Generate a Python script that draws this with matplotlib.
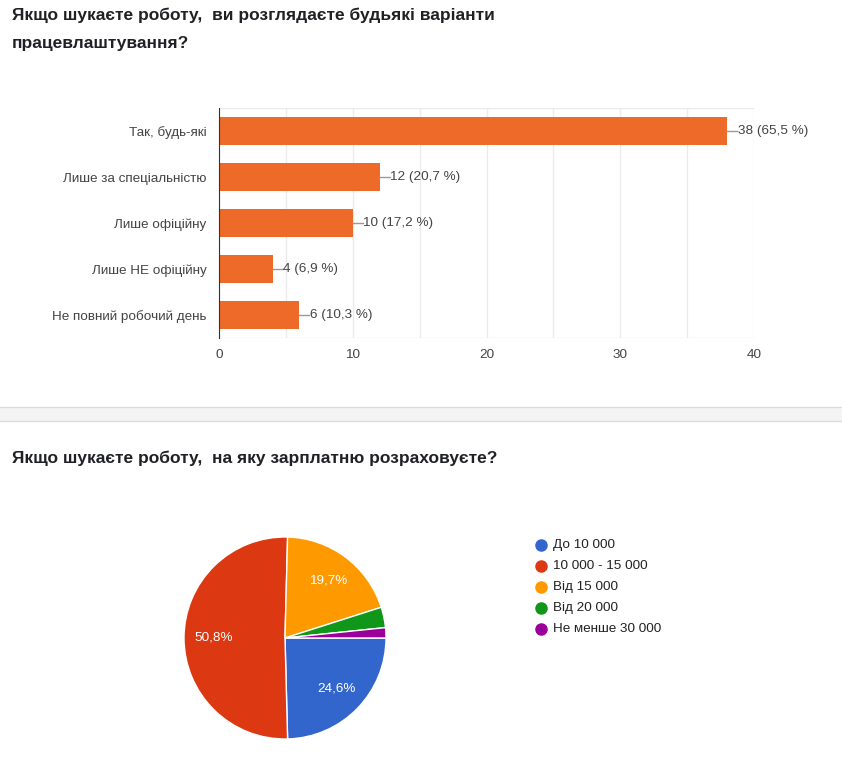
import matplotlib.pyplot as plt
from matplotlib.patches import Rectangle
from matplotlib.lines import Line2D

# Question 1 data (multiple choice, 58 respondents)
job_options = ['Так, будь-які', 'Лише за спеціальністю', 'Лише офіційну',
               'Лише НЕ офіційну', 'Не повний робочий день']
job_counts = [38, 12, 10, 4, 6]
job_respondents = 58

# Question 2 data
salary_labels = ['До 10 000', '10 000 - 15 000', 'Від 15 000', 'Від 20 000', 'Не менше 30 000']
salary_counts = [15, 31, 12, 2, 1]
salary_colors = ['#3366cc', '#dc3912', '#ff9900', '#109618', '#990099']

title1 = 'Якщо шукаєте роботу,  ви розглядаєте будьякі варіанти\nпрацевлаштування?'
title2 = 'Якщо шукаєте роботу,  на яку зарплатню розраховуєте?'

W, H = 842, 757
plt.rcParams['font.family'] = ['Liberation Sans', 'DejaVu Sans']
fig = plt.figure(figsize=(W / 100, H / 100), dpi=100)
fig.patch.set_facecolor('white')

title_font = ['Liberation Sans Narrow', 'Liberation Sans', 'DejaVu Sans']
fs = 9.7


def px(x, y):
    # pixel (from top-left) to figure fraction
    return x / W, 1 - y / H


# titles
fig.text(*px(12, 8), title1, fontsize=12.5, fontweight='bold', family=title_font,
         color='#202124', va='top', ha='left', linespacing=2.05)
fig.text(*px(12, 451), title2, fontsize=12.5, fontweight='bold', family=title_font,
         color='#202124', va='top', ha='left')

# divider band
fig.patches.append(Rectangle(px(0, 421), 1, 14 / H, transform=fig.transFigure,
                             facecolor='#f4f4f4', edgecolor='none'))
for yy in (407, 421):
    fig.add_artist(Line2D([0, 1], [1 - yy / H] * 2, color='#dadce0', lw=1))

# --- bar chart ---
ax = fig.add_axes([219 / W, 1 - 338 / H, (754 - 219) / W, 230 / H])
ypos = list(range(len(job_options)))
ax.barh(ypos, job_counts, height=0.6, color='#ee6a29', zorder=3)
ax.set_ylim(len(job_options) - 0.5, -0.5)
ax.set_xlim(0, 40)
ax.set_xticks(range(0, 41, 10))
ax.set_xticks(range(0, 41, 5), minor=True)
ax.set_yticks(ypos)
ax.set_yticklabels(job_options)
ax.grid(axis='x', which='both', color='#ebebeb', lw=1, zorder=0)
ax.tick_params(axis='both', which='both', length=0, labelsize=fs, labelcolor='#444444')
ax.tick_params(axis='y', pad=9)
ax.tick_params(axis='x', pad=8)
for side in ('top', 'right', 'bottom'):
    ax.spines[side].set_visible(False)
ax.spines['left'].set_color('#333333')
ax.spines['left'].set_zorder(4)
for yy in (-0.5, len(job_options) - 0.5):
    ax.axhline(yy, color='#ebebeb', lw=1, zorder=0)

for i, v in enumerate(job_counts):
    pct = f'{100 * v / job_respondents:.1f}'.replace('.', ',')
    ax.plot([v, v + 0.75], [i, i], color='#999999', lw=1, zorder=3, clip_on=False)
    ax.text(v + 0.8, i, f'{v} ({pct} %)', va='center', ha='left', fontsize=fs,
            color='#444444', clip_on=False)

# --- pie chart ---
pax = fig.add_axes([184 / W, 1 - 739 / H, 202 / W, 202 / H])


def fmt(p):
    return f'{p:.1f}%'.replace('.', ',') if p > 5 else ''


pax.pie(salary_counts, colors=salary_colors, startangle=0, counterclock=False,
        radius=1, autopct=fmt, pctdistance=0.71,
        wedgeprops=dict(edgecolor='white', linewidth=1),
        textprops=dict(color='white', fontsize=fs))
pax.set_xlim(-1, 1)
pax.set_ylim(-1, 1)
pax.set_aspect('equal')
pax.axis('off')

# legend
for i, (lab, col) in enumerate(zip(salary_labels, salary_colors)):
    x0, y0 = px(541, 545 + 21 * i)
    fig.add_artist(Line2D([x0], [y0], marker='o', markersize=8, color=col, lw=0))
    fig.text(*px(553, 545 + 21 * i), lab, fontsize=fs, color='#222222', va='center', ha='left')

fig.savefig('out.png', dpi=100)
